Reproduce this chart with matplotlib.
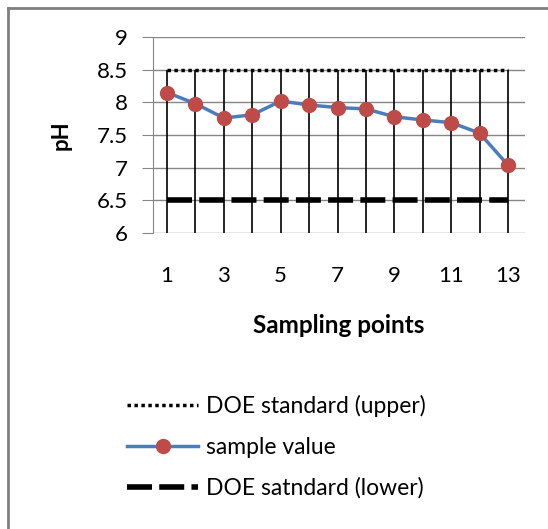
import matplotlib.pyplot as plt
from matplotlib.lines import Line2D

plt.rcParams['font.family'] = ['Lato', 'DejaVu Sans']

# chart data
points = list(range(1, 14))
ph_values = [8.15, 7.98, 7.76, 7.81, 8.02, 7.96, 7.92, 7.90, 7.78, 7.73, 7.69, 7.53, 7.04]
upper_std = [8.5] * 13
lower_std = [6.5] * 13
tick_labels = ['1', '3', '5', '7', '9', '11', '13']

fig = plt.figure(figsize=(5.48, 5.29), dpi=100)
ax = fig.add_axes([0.279, 0.5595, 0.679, 0.3705])

grid_col = '#868686'
ax.set_ylim(6, 9)
ax.set_xlim(0.5, 13.6)
ax.set_yticks([6, 6.5, 7, 7.5, 8, 8.5, 9])
ax.set_yticklabels(['6', '6.5', '7', '7.5', '8', '8.5', '9'])
ax.yaxis.grid(True, color=grid_col, lw=1)
ax.set_axisbelow(True)
for s in ['top', 'right', 'bottom']:
    ax.spines[s].set_visible(False)
ax.spines['left'].set_color(grid_col)
ax.tick_params(axis='y', length=8, color=grid_col, labelsize=16, pad=10)
ax.set_xticks([int(t) for t in tick_labels])
ax.set_xticklabels(tick_labels)
ax.tick_params(axis='x', length=0, labelsize=16, pad=24)

# drop lines from the upper standard down to the axis
ax.vlines(points, 6, upper_std, color='black', lw=1.2, zorder=2)

ax.plot(points, upper_std, color='black', lw=2.5, linestyle=(0, (1, 1)),
        label='DOE standard (upper)', zorder=3)
ax.plot(points, ph_values, color='#4A7EBB', lw=2.5, marker='o', markersize=10,
        markerfacecolor='#BE4B48', markeredgecolor='#BE4B48',
        label='sample value', zorder=4)
ax.plot(points, lower_std, color='black', lw=4, linestyle=(0, (4.5, 1.3)),
        label='DOE satndard (lower)', zorder=3)

ax.set_ylabel('pH', fontsize=16, fontweight='bold', labelpad=18)
ax.set_xlabel('Sampling points', fontsize=17.5, fontweight='bold', labelpad=20)

fig.legend(loc='upper left', bbox_to_anchor=(0.215, 0.27), frameon=False,
           fontsize=16.5, handlelength=3.1, handletextpad=0.35, labelspacing=0.85,
           borderaxespad=0)

# outer chart frame (left and top edges visible)
fig.add_artist(Line2D([8 / 548, 8 / 548], [0, 1 - 8 / 529], color='#7f7f7f', lw=2))
fig.add_artist(Line2D([8 / 548, 1], [1 - 8 / 529, 1 - 8 / 529], color='#7f7f7f', lw=2))

fig.savefig('out.png', dpi=100)
